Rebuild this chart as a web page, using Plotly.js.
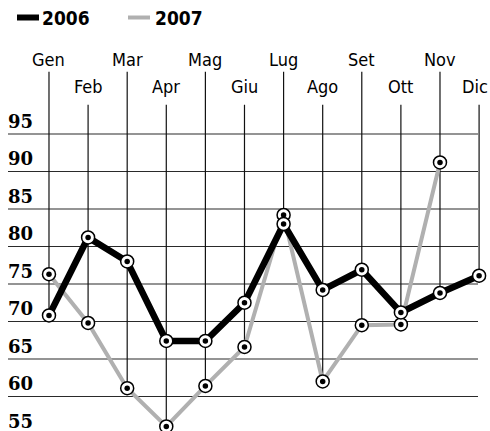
<!DOCTYPE html>
<html>
<head>
<meta charset="utf-8">
<script src="https://cdn.plot.ly/plotly-3.0.1.min.js"></script>
<style>
html,body{margin:0;padding:0;background:#fff;overflow:hidden;}
#chart{width:490px;height:460px;}
</style>
</head>
<body>
<div id="chart"></div>
<script>
const months = ['Gen','Feb','Mar','Apr','Mag','Giu','Lug','Ago','Set','Ott','Nov','Dic'];
const v2006 = [70.8, 81.2, 78.0, 67.4, 67.4, 72.5, 83.0, 74.2, 76.9, 71.2, 73.8, 76.1];
const v2007 = [76.3, 69.8, 61.1, 56.0, 61.4, 66.6, 84.2, 62.0, 69.5, 69.6, 91.2, null];
const yTicks = [55, 60, 65, 70, 75, 80, 85, 90, 95];
const seriesNames = ['2006', '2007'];

const W = 490, H = 460;
const xIdx = months.map((m, i) => i);
const px = x => x / W;          // pixel -> paper x
const py = y => 1 - y / H;      // pixel -> paper y

const traces = [];
function addSeries(vals, color, width) {
  traces.push({x: xIdx, y: vals, type: 'scatter', mode: 'lines',
    line: {color: color, width: width}, connectgaps: false, hoverinfo: 'skip'});
  traces.push({x: xIdx, y: vals, type: 'scatter', mode: 'markers',
    marker: {size: 13, color: '#fff', line: {color: '#000', width: 1.5}}, hoverinfo: 'skip'});
  traces.push({x: xIdx, y: vals, type: 'scatter', mode: 'markers',
    marker: {size: 5.5, color: '#000'}, hoverinfo: 'skip'});
}
addSeries(v2007, '#b0b0b0', 4);
addSeries(v2006, '#000', 6.5);

const shapes = [];
const annotations = [];
// horizontal gridlines
yTicks.forEach(v => {
  shapes.push({type: 'line', xref: 'paper', yref: 'y', x0: px(8), x1: px(478), y0: v, y1: v,
    line: {color: '#2a2a2a', width: 1.2}, layer: 'below'});
  annotations.push({xref: 'paper', yref: 'y', x: px(6), y: v, xanchor: 'left', yanchor: 'bottom',
    yshift: 0, text: String(v), showarrow: false,
    font: {family: 'DejaVu Serif', size: 18, color: '#000', weight: 'bold'}});
});
// vertical month lines and labels
months.forEach((m, i) => {
  const upper = i % 2 === 0;
  const topV = upper ? 103.3 : 98.9;
  const lows = [v2006[i], v2007[i]].filter(v => v !== null);
  shapes.push({type: 'line', xref: 'x', yref: 'y', x0: i, x1: i, y0: topV, y1: Math.min(...lows),
    line: {color: '#111', width: 1.2}, layer: 'below'});
  annotations.push({xref: 'x', yref: 'y', x: i, y: upper ? 105 : 101.4, xanchor: 'center', yanchor: 'middle',
    xshift: i === months.length - 1 ? -4 : 0,
    text: m, showarrow: false,
    font: {family: 'DejaVu Sans Condensed', size: 18, color: '#000'}});
});
// legend
shapes.push({type: 'line', xref: 'paper', yref: 'paper', x0: px(17), x1: px(39), y0: py(17.5), y1: py(17.5),
  line: {color: '#000', width: 6}});
shapes.push({type: 'line', xref: 'paper', yref: 'paper', x0: px(128), x1: px(150), y0: py(17.5), y1: py(17.5),
  line: {color: '#b0b0b0', width: 4}});
annotations.push({xref: 'paper', yref: 'paper', x: px(40), y: py(18), xanchor: 'left', yanchor: 'middle',
  text: seriesNames[0], showarrow: false,
  font: {family: 'DejaVu Sans Condensed', size: 19, color: '#000', weight: 'bold'}});
annotations.push({xref: 'paper', yref: 'paper', x: px(153), y: py(18), xanchor: 'left', yanchor: 'middle',
  text: seriesNames[1], showarrow: false,
  font: {family: 'DejaVu Sans Condensed', size: 19, color: '#000', weight: 'bold'}});

const layout = {
  width: W, height: H,
  margin: {l: 0, r: 0, t: 0, b: 0},
  paper_bgcolor: '#fff', plot_bgcolor: '#fff',
  showlegend: false,
  xaxis: {range: [-1.253, 11.279], visible: false, fixedrange: true},
  yaxis: {range: [51.53, 112.867], visible: false, fixedrange: true},
  shapes: shapes,
  annotations: annotations
};
Plotly.newPlot('chart', traces, layout, {staticPlot: true, displayModeBar: false});
</script>
</body>
</html>
